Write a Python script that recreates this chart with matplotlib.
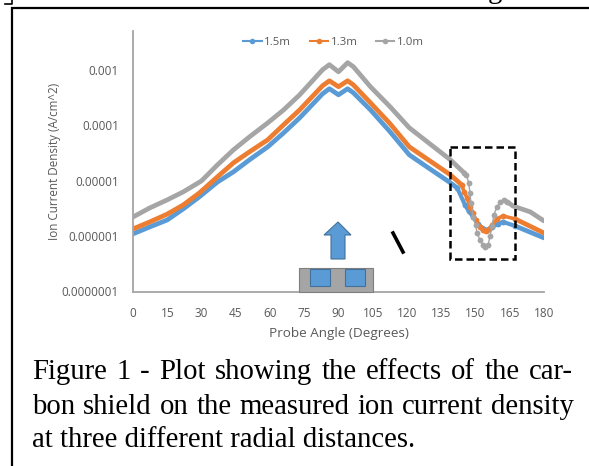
import matplotlib
matplotlib.use('Agg')
import matplotlib.pyplot as plt
from matplotlib.patches import Polygon, Rectangle

# angle, value pairs
angles_15 = [0, 7.4, 15, 22, 29, 37, 44, 51, 59, 66, 73, 83, 86, 90, 94, 96.5, 104, 112.6, 121, 130, 139, 142,
             145.4, 147, 149, 151, 153, 155, 157.3, 160, 162, 167.3, 180]
values_15 = [1.10e-6, 1.47e-6, 1.96e-6, 3.1e-6, 5.1e-6, 9.5e-6, 1.45e-5, 2.39e-5, 4.1e-5, 7.35e-5, 1.37e-4,
             3.72e-4, 4.6e-4, 3.57e-4, 4.6e-4, 3.89e-4, 1.91e-4, 7.66e-5, 2.94e-5, 1.64e-5, 9.2e-6, 7.4e-6,
             3.66e-6, 2.86e-6, 2.22e-6, 1.66e-6, 1.41e-6, 1.29e-6, 1.47e-6, 1.66e-6, 1.81e-6, 1.53e-6, 9.3e-7]

angles_13 = [0, 7.4, 15, 22, 29, 37, 44, 51, 59, 66, 73, 83, 86, 90, 94, 96.5, 104, 112.6, 121, 130, 139, 144,
             145, 146.3, 147.6, 149, 150, 152, 153.3, 154.6, 156, 157.3, 159.4, 162, 167.3, 180]
values_13 = [1.35e-6, 1.81e-6, 2.5e-6, 3.66e-6, 6.0e-6, 1.18e-5, 2.11e-5, 3.33e-5, 5.5e-5, 1.03e-4, 1.91e-4,
             5.2e-4, 6.4e-4, 5.0e-4, 6.4e-4, 5.4e-4, 2.56e-4, 1.07e-4, 4.1e-5, 2.29e-5, 1.28e-5, 8.4e-6,
             6.3e-6, 4.9e-6, 3.37e-6, 2.63e-6, 1.96e-6, 1.47e-6, 1.29e-6, 1.24e-6, 1.35e-6, 1.6e-6, 2.05e-6,
             2.32e-6, 2.05e-6, 1.14e-6]

angles_10 = [0, 7.4, 15, 22, 30, 37, 44, 51, 59, 66, 73, 83, 86, 90, 94, 96.5, 104, 112.6, 121, 130, 139, 145,
             146, 147, 147.6, 148, 149, 150, 150.7, 152, 153.3, 154, 155.5, 156.4, 157.3, 158, 159.4, 160.8,
             162.5, 164, 166.4, 174, 180]
values_10 = [2.22e-6, 3.24e-6, 4.52e-6, 6.3e-6, 9.95e-6, 1.94e-5, 3.62e-5, 6.2e-5, 1.11e-4, 1.91e-4, 3.57e-4,
             1.01e-3, 1.25e-3, 9.3e-4, 1.36e-3, 1.15e-3, 4.99e-4, 2.17e-4, 9.06e-5, 4.65e-5, 2.39e-5, 1.39e-5,
             1.28e-5, 9.2e-6, 6.0e-6, 4.0e-6, 2.22e-6, 1.6e-6, 1.14e-6, 8.5e-7, 6.9e-7, 6.4e-7, 6.9e-7, 1.01e-6,
             1.53e-6, 2.41e-6, 3.37e-6, 4.15e-6, 4.52e-6, 4.15e-6, 3.5e-6, 2.74e-6, 1.88e-6]

xticks = list(range(0, 181, 15))
yticks = [1e-7, 1e-6, 1e-5, 1e-4, 1e-3]
ylabels = ['0.0000001', '0.000001', '0.00001', '0.0001', '0.001']
caption = ['Figure 1 - Plot showing the effects of the car-',
           'bon shield on the measured ion current density',
           'at three different radial distances.']

BLUE = '#5b9bd5'
ORANGE = '#ed7d31'
GRAY = '#a5a5a5'
TEXT = '#595959'
W, H = 589, 466

fig = plt.figure(figsize=(W / 100, H / 100), dpi=100)
plt.rcParams['font.family'] = 'Open Sans'

ax = fig.add_axes([133 / W, 1 - 291.5 / H, (544 - 133) / W, (291.5 - 31) / H])


def draw(x, y, color, label, start, end, thin_lw):
    # dense readings around the dip show single markers, the rest merge into a fat line
    i, j = x.index(start), x.index(end)
    ax.plot(x[:i + 1], y[:i + 1], color=color, lw=3.4, solid_capstyle='round')
    ax.plot(x[i:j + 1], y[i:j + 1], color=color, lw=thin_lw, marker='o', ms=4.2, mew=0)
    ax.plot(x[j:], y[j:], color=color, lw=3.4, solid_capstyle='round')
    ax.plot([], [], color=color, lw=1.5, marker='o', ms=4, mew=0, label=label)


draw(angles_15, values_15, BLUE, '1.5m', 142, 167.3, 3.0)
draw(angles_13, values_13, ORANGE, '1.3m', 144, 167.3, 2.6)
draw(angles_10, values_10, GRAY, '1.0m', 145, 164, 1.0)

ax.set_yscale('log')
ax.set_xlim(0, 180)
ax.set_ylim(1e-7, 10 ** (-3 + 39 / 55.3))
ax.set_xticks(xticks)
ax.set_yticks(yticks)
ax.set_yticklabels(ylabels)
ax.minorticks_off()
ax.tick_params(axis='both', length=0, labelsize=8.5, colors=TEXT)
ax.tick_params(axis='x', pad=11)
ax.tick_params(axis='y', pad=10)
for s in ['top', 'right']:
    ax.spines[s].set_visible(False)
for s in ['left', 'bottom']:
    ax.spines[s].set_color(GRAY)
    ax.spines[s].set_linewidth(1.3)
ax.set_xlabel('Probe Angle (Degrees)', fontsize=9.7, color=TEXT, labelpad=5.5)
ax.set_ylabel('Ion Current Density (A/cm^2)', fontsize=8.4, color=TEXT, labelpad=0.5)
ax.legend(loc='upper center', bbox_to_anchor=(0.488, 1.0), ncol=3, frameon=False, fontsize=8.2,
          labelcolor=TEXT, handlelength=1.6, handletextpad=0.25, columnspacing=1.6, borderaxespad=0.1)

# overlay in image pixels for the page frame, sketch and caption
ov = fig.add_axes([0, 0, 1, 1], facecolor='none')
ov.set_xlim(0, W)
ov.set_ylim(H, 0)
ov.axis('off')
ov.plot([12, 12, W], [H, 8, 8], color='black', lw=1.6, solid_joinstyle='miter')
ov.plot([5, 12, 12], [4, 4, 0], color='black', lw=1.2)
ov.text(488, -2, 'g', family='Liberation Serif', fontsize=20.7, color='black', va='baseline')
ov.add_patch(Rectangle((299, 268), 74, 23.5, fc=GRAY, ec='#7f7f7f', lw=0.8))
ov.add_patch(Rectangle((310, 269), 20, 17, fc=BLUE, ec='#41719c', lw=0.8))
ov.add_patch(Rectangle((345, 269), 20, 17, fc=BLUE, ec='#41719c', lw=0.8))
ov.add_patch(Polygon([(338, 222), (351, 235), (345, 235), (345, 259), (331, 259), (331, 235), (324, 235)],
                     closed=True, fc=BLUE, ec='#41719c', lw=0.8))
ov.plot([393, 403], [233, 252], color='black', lw=2.6)
ov.add_patch(Rectangle((450, 147), 65, 112, fc='none', ec='black', lw=1.8, ls=(0, (3, 1.6))))


def justified(line, base, left, right):
    # the caption is set justified, so spread the words out to the right edge
    renderer = fig.canvas.get_renderer()
    words = [ov.text(left, base, w, family='Liberation Serif', fontsize=20.7, color='black', va='baseline')
             for w in line.split()]
    widths = [t.get_window_extent(renderer).width for t in words]
    gap = (right - left - sum(widths)) / (len(words) - 1)
    x = left
    for t, w in zip(words, widths):
        t.set_x(x)
        x += w + gap


justified(caption[0], 379, 32, 573)
justified(caption[1], 414, 32, 574)
ov.text(32, 447, caption[2], family='Liberation Serif', fontsize=20.7, color='black', va='baseline')

fig.savefig('out.png', dpi=100)
